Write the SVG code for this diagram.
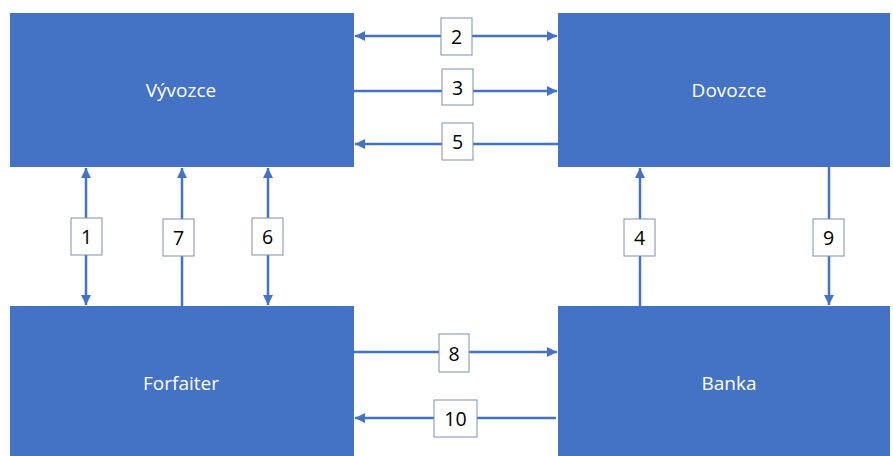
<svg xmlns="http://www.w3.org/2000/svg" width="893" height="456" viewBox="0 0 893 456">
<style>
.node{fill:#4472C4;}
.nt{fill:#FFFFFF;font-family:"Open Sans","Liberation Sans",sans-serif;font-size:19px;text-anchor:middle;dominant-baseline:central;}
.ln{stroke:#4472C4;stroke-width:2.5;fill:none;}
.lb{fill:#FFFFFF;stroke:#7F8FA9;stroke-width:1;}
.lt{fill:#000000;font-family:"Open Sans","Liberation Sans",sans-serif;font-size:19.5px;text-anchor:middle;dominant-baseline:central;}
</style>
<defs>
<marker id="ah" viewBox="0 0 10 10" refX="10" refY="5" markerWidth="4" markerHeight="4" orient="auto-start-reverse" markerUnits="strokeWidth">
<path d="M0,0 L10,5 L0,10 z" fill="#4472C4"/>
</marker>
</defs>
<rect width="893" height="456" fill="#FFFFFF"/>
<g id="vyvozce"><rect class="node" x="10" y="13" width="344" height="154"/><text class="nt" x="181" y="90">Vývozce</text></g>
<g id="dovozce"><rect class="node" x="558" y="13" width="332" height="154"/><text class="nt" x="729" y="90">Dovozce</text></g>
<g id="forfaiter"><rect class="node" x="10" y="306" width="344" height="150"/><text class="nt" x="181" y="383">Forfaiter</text></g>
<g id="banka"><rect class="node" x="558" y="306" width="332" height="150"/><text class="nt" x="729" y="383">Banka</text></g>
<g id="connectors">
<line class="ln" x1="355" y1="36" x2="557" y2="36" marker-start="url(#ah)" marker-end="url(#ah)"/>
<line class="ln" x1="354" y1="91" x2="557" y2="91" marker-end="url(#ah)"/>
<line class="ln" x1="558" y1="144" x2="355" y2="144" marker-end="url(#ah)"/>
<line class="ln" x1="354" y1="352" x2="557" y2="352" marker-end="url(#ah)"/>
<line class="ln" x1="556" y1="418" x2="355" y2="418" marker-end="url(#ah)"/>
<line class="ln" x1="86" y1="168" x2="86" y2="305" marker-start="url(#ah)" marker-end="url(#ah)"/>
<line class="ln" x1="182" y1="306" x2="182" y2="168" marker-end="url(#ah)"/>
<line class="ln" x1="268" y1="168" x2="268" y2="305" marker-start="url(#ah)" marker-end="url(#ah)"/>
<line class="ln" x1="640" y1="306" x2="640" y2="168" marker-end="url(#ah)"/>
<line class="ln" x1="829" y1="167" x2="829" y2="305" marker-end="url(#ah)"/>
<g id="labels">
<rect class="lb" x="441" y="18" width="31" height="37"/><text class="lt" x="456.5" y="36.5">2</text>
<rect class="lb" x="442" y="69" width="31" height="36"/><text class="lt" x="457.5" y="87.5">3</text>
<rect class="lb" x="442" y="123" width="31" height="37"/><text class="lt" x="457.5" y="141.5">5</text>
<rect class="lb" x="439" y="334" width="30" height="38"/><text class="lt" x="454" y="353">8</text>
<rect class="lb" x="434" y="400" width="43" height="37"/><text class="lt" x="455.5" y="418.5">10</text>
<rect class="lb" x="71" y="218" width="31" height="37"/><text class="lt" x="86.5" y="236.5">1</text>
<rect class="lb" x="163" y="219" width="31" height="37"/><text class="lt" x="178.5" y="237.5">7</text>
<rect class="lb" x="252" y="218" width="31" height="37"/><text class="lt" x="267.5" y="236.5">6</text>
<rect class="lb" x="624" y="219" width="31" height="37"/><text class="lt" x="639.5" y="237.5">4</text>
<rect class="lb" x="813" y="219" width="31" height="37"/><text class="lt" x="828.5" y="237.5">9</text>
</g>
</g>
</svg>
